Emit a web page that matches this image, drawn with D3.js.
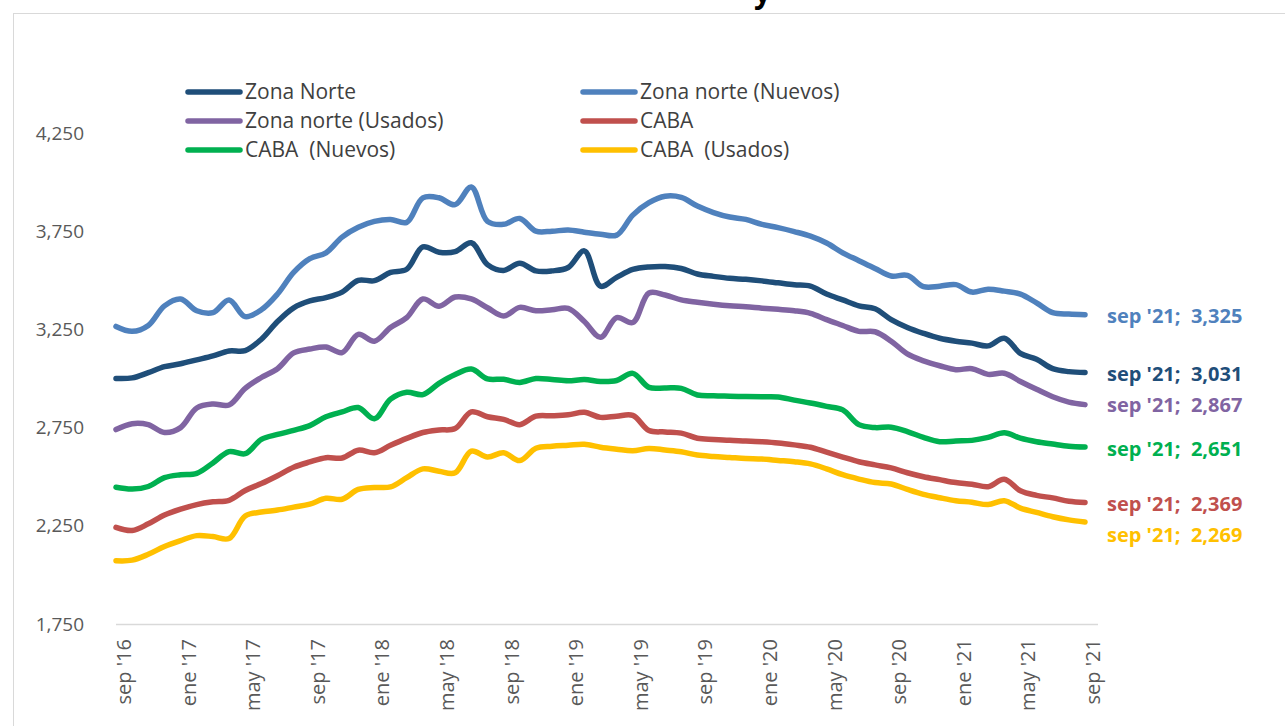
<!DOCTYPE html>
<html>
<head>
<meta charset="utf-8">
<script src="https://cdn.jsdelivr.net/npm/d3@7"></script>
<style>
  body { margin: 0; background: #fff; }
  svg { display: block; }
  text { font-family: "Open Sans", "Noto Sans", sans-serif; }
</style>
</head>
<body>
<svg id="chart"></svg>
<script>
// monthly categories, sep '16 .. sep '21
const months = [
  "sep '16","oct '16","nov '16","dic '16","ene '17","feb '17","mar '17","abr '17","may '17","jun '17","jul '17","ago '17",
  "sep '17","oct '17","nov '17","dic '17","ene '18","feb '18","mar '18","abr '18","may '18","jun '18","jul '18","ago '18",
  "sep '18","oct '18","nov '18","dic '18","ene '19","feb '19","mar '19","abr '19","may '19","jun '19","jul '19","ago '19",
  "sep '19","oct '19","nov '19","dic '19","ene '20","feb '20","mar '20","abr '20","may '20","jun '20","jul '20","ago '20",
  "sep '20","oct '20","nov '20","dic '20","ene '21","feb '21","mar '21","abr '21","may '21","jun '21","jul '21","ago '21",
  "sep '21"
];
const xTickLabels = ["sep '16","ene '17","may '17","sep '17","ene '18","may '18","sep '18","ene '19","may '19",
  "sep '19","ene '20","may '20","sep '20","ene '21","may '21","sep '21"];
const yTicks = [1750, 2250, 2750, 3250, 3750, 4250];

const zonaNorte = [3000,3003,3030,3060,3075,3095,3115,3140,3142,3200,3290,3360,
  3395,3412,3440,3500,3498,3540,3556,3670,3643,3646,3691,3580,
  3550,3587,3548,3548,3565,3650,3470,3515,3555,3568,3570,3560,
  3532,3520,3510,3505,3497,3487,3477,3470,3430,3400,3370,3355,
  3300,3260,3230,3205,3190,3180,3166,3205,3128,3098,3050,3035,3031];
const zonaNorteNuevos = [3265,3240,3270,3370,3405,3345,3335,3400,3315,3350,3430,3540,
  3610,3640,3720,3770,3800,3810,3795,3920,3920,3885,3975,3800,
  3785,3815,3750,3750,3756,3745,3735,3730,3832,3895,3928,3922,
  3878,3845,3822,3810,3785,3768,3748,3725,3690,3640,3600,3560,
  3522,3525,3468,3470,3478,3440,3455,3445,3430,3385,3335,3328,3325];
const zonaNorteUsados = [2740,2770,2765,2725,2750,2850,2870,2865,2950,3005,3050,3130,
  3150,3160,3132,3225,3190,3260,3310,3405,3368,3415,3405,3360,
  3318,3362,3345,3350,3357,3290,3210,3310,3285,3435,3425,3400,
  3388,3378,3370,3365,3358,3352,3345,3332,3300,3270,3240,3238,
  3190,3125,3090,3065,3045,3050,3021,3027,2985,2945,2907,2880,2867];
const caba = [2242,2226,2260,2305,2335,2358,2372,2380,2430,2465,2505,2548,
  2575,2597,2595,2635,2622,2660,2695,2725,2738,2745,2830,2805,
  2792,2765,2808,2810,2815,2828,2802,2808,2812,2735,2728,2722,
  2696,2690,2685,2682,2678,2672,2662,2650,2625,2600,2576,2560,
  2545,2520,2500,2485,2470,2462,2449,2487,2428,2405,2392,2375,2369];
const cabaNuevos = [2446,2437,2450,2495,2510,2517,2570,2628,2617,2690,2715,2736,
  2760,2805,2830,2852,2795,2895,2930,2918,2975,3020,3048,2998,
  2996,2980,3000,2995,2988,2995,2985,2990,3026,2955,2952,2950,
  2916,2912,2910,2908,2907,2906,2890,2875,2858,2840,2765,2750,
  2752,2730,2700,2678,2682,2685,2700,2724,2696,2678,2666,2655,2651];
const cabaUsados = [2072,2075,2105,2145,2175,2200,2195,2185,2300,2320,2330,2345,
  2360,2390,2385,2435,2445,2448,2495,2540,2528,2520,2630,2600,
  2622,2582,2645,2655,2660,2665,2650,2640,2632,2644,2636,2627,
  2610,2603,2598,2593,2590,2583,2576,2565,2540,2510,2488,2470,
  2463,2435,2410,2393,2378,2370,2358,2378,2340,2318,2296,2280,2269];

const seriesNames = ["Zona Norte", "Zona norte (Nuevos)", "Zona norte (Usados)", "CABA", "CABA  (Nuevos)", "CABA  (Usados)"];
const seriesValues = [zonaNorte, zonaNorteNuevos, zonaNorteUsados, caba, cabaNuevos, cabaUsados];
const colors = ["#1F4E79", "#4F81BD", "#8064A2", "#C0504D", "#00B050", "#FFC000"];

const width = 1285, height = 726;
const margin = { top: 133, right: 200, bottom: 102, left: 116 };

const svg = d3.select("#chart").attr("width", width).attr("height", height);

// outer frame
svg.append("rect")
  .attr("x", 13.5).attr("y", 13.5)
  .attr("width", width).attr("height", height)
  .attr("fill", "none").attr("stroke", "#d9d9d9");

// title (only its lowest part shows at the top edge)
svg.append("text")
  .attr("x", 754).attr("y", 3)
  .attr("font-size", 30).attr("font-weight", "bold")
  .attr("fill", "#000")
  .text("y");

const x = d3.scalePoint()
  .domain(months)
  .range([margin.left, 1085]);

const y = d3.scaleLinear()
  .domain([1750, 4250])
  .range([height - margin.bottom, margin.top]);

// baseline
svg.append("line")
  .attr("x1", x(months[0])).attr("x2", x(months[months.length - 1]) + 13)
  .attr("y1", y(1750) + 0.5).attr("y2", y(1750) + 0.5)
  .attr("stroke", "#d9d9d9").attr("stroke-width", 1.5);

// y axis
const yAxis = svg.append("g")
  .attr("transform", "translate(" + (margin.left - 29) + ",0)")
  .call(d3.axisLeft(y).tickValues(yTicks).tickSize(0).tickFormat(d3.format(",")));
yAxis.select(".domain").remove();
yAxis.selectAll("text")
  .attr("fill", "#595959")
  .attr("font-size", 19)
  .attr("font-family", "'Open Sans', sans-serif");

// x axis
const xAxis = svg.append("g")
  .attr("transform", "translate(0," + (y(1750) + 15) + ")")
  .call(d3.axisBottom(x).tickValues(xTickLabels).tickSize(0));
xAxis.select(".domain").remove();
xAxis.selectAll("text")
  .attr("fill", "#595959")
  .attr("font-size", 20)
  .attr("font-family", "'Open Sans', sans-serif")
  .attr("text-anchor", "end")
  .attr("transform", "rotate(-90)")
  .attr("x", 0)
  .attr("y", 0)
  .attr("dy", "0.72em");

// lines
const line = d3.line()
  .x((d, i) => x(months[i]))
  .y(d => y(d))
  .curve(d3.curveCatmullRom.alpha(0.5));

svg.append("g")
  .selectAll("path")
  .data(seriesValues)
  .join("path")
  .attr("fill", "none")
  .attr("stroke", (d, i) => colors[i])
  .attr("stroke-width", 5.5)
  .attr("stroke-linecap", "round")
  .attr("stroke-linejoin", "round")
  .attr("d", line);

// end labels
const labelOffsets = [2, 1, 0, 2, 2, 13];
svg.append("g")
  .selectAll("text")
  .data(seriesValues)
  .join("text")
  .attr("x", x(months[months.length - 1]) + 22)
  .attr("y", (d, i) => y(d[d.length - 1]) + labelOffsets[i])
  .attr("dy", "0.35em")
  .attr("fill", (d, i) => colors[i])
  .attr("font-size", 20)
  .attr("font-weight", "bold")
  .style("white-space", "pre")
  .text(d => months[months.length - 1] + ";  " + d3.format(",")(d[d.length - 1]));

// legend
const legendCols = [188, 583];
const legendRows = [92, 121, 150];
const legend = svg.append("g")
  .selectAll("g")
  .data(seriesNames)
  .join("g")
  .attr("transform", (d, i) => "translate(" + legendCols[i % 2] + "," + legendRows[Math.floor(i / 2)] + ")");
legend.append("line")
  .attr("x1", 0).attr("x2", 52)
  .attr("stroke", (d, i) => colors[i])
  .attr("stroke-width", 5.5)
  .attr("stroke-linecap", "round");
legend.append("text")
  .attr("x", 57)
  .attr("dy", "0.35em")
  .attr("font-size", 21)
  .attr("fill", "#404040")
  .style("white-space", "pre")
  .text(d => d);
</script>
</body>
</html>
